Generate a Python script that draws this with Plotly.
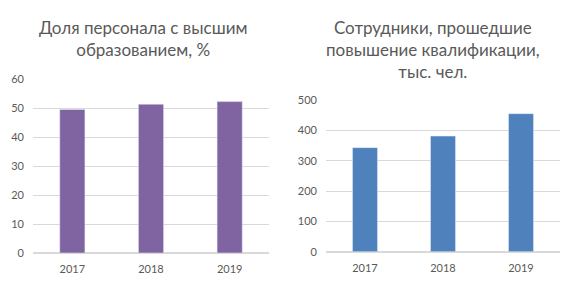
import plotly.graph_objects as go

years = ["2017", "2018", "2019"]
share_higher_edu = [49.5, 51.3, 52.2]
trained_staff = [343, 381, 455]

title_left = "Доля персонала с высшим<br>образованием, %"
title_right = "Сотрудники, прошедшие<br>повышение квалификации,<br>тыс. чел."

W, H = 579, 285
FONT = "Lato"
GRAY = "#595959"
GRID = "#d9d9d9"

fig = go.Figure()
fig.add_trace(go.Bar(x=years, y=share_higher_edu, marker_color="#8064A2",
                     xaxis="x", yaxis="y", showlegend=False, hoverinfo="skip"))
fig.add_trace(go.Bar(x=years, y=trained_staff, marker_color="#4F81BD",
                     xaxis="x2", yaxis="y2", showlegend=False, hoverinfo="skip"))

axis_common = dict(showline=False, ticks="", automargin=False,
                   tickfont=dict(family=FONT, size=11, color=GRAY))
fig.update_layout(
    width=W, height=H,
    margin=dict(l=0, r=0, t=0, b=0),
    paper_bgcolor="white", plot_bgcolor="white",
    bargap=0.68,
    font=dict(family=FONT, color=GRAY),
    xaxis=dict(domain=[33/W, 269/W], anchor="y", showgrid=False,
               ticklabelstandoff=8, **axis_common),
    yaxis=dict(domain=[1-253/H, 1-79/H], anchor="x", range=[0, 60], dtick=10,
               gridcolor=GRID, zerolinecolor=GRID, ticklabelstandoff=8, **axis_common),
    xaxis2=dict(domain=[326/W, 560/W], anchor="y2", showgrid=False,
                ticklabelstandoff=8, **axis_common),
    yaxis2=dict(domain=[1-251.7/H, 1-100/H], anchor="x2", range=[0, 500], dtick=100,
                gridcolor=GRID, zerolinecolor=GRID, ticklabelstandoff=8, **axis_common),
    annotations=[
        dict(text=title_left, x=143/W, y=1-38.5/H, xref="paper", yref="paper",
             xanchor="center", yanchor="middle", showarrow=False,
             font=dict(family=FONT, size=17, color=GRAY)),
        dict(text=title_right, x=433/W, y=1-49.5/H, xref="paper", yref="paper",
             xanchor="center", yanchor="middle", showarrow=False,
             font=dict(family=FONT, size=17, color=GRAY)),
    ],
)

fig.write_html("out.html", config={"displayModeBar": False},
               post_script="document.body.style.margin='0';")
